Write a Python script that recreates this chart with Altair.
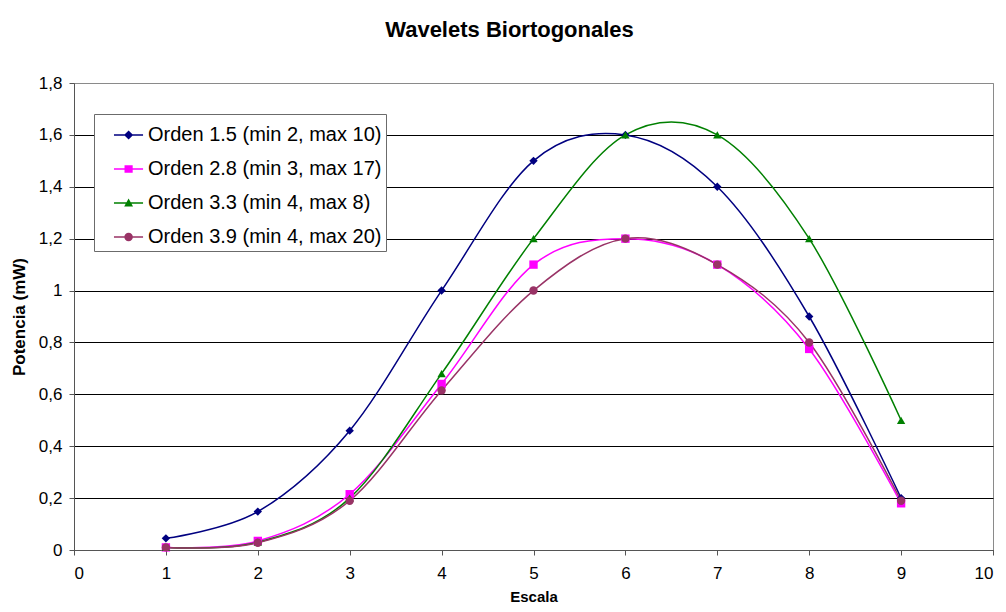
import altair as alt
import pandas as pd

escala = [1, 2, 3, 4, 5, 6, 7, 8, 9]
series = [
    "Orden 1.5 (min 2, max 10)",
    "Orden 2.8 (min 3, max 17)",
    "Orden 3.3 (min 4, max 8)",
    "Orden 3.9 (min 4, max 20)",
]
orden_15 = [0.045, 0.148, 0.46, 1.0, 1.5, 1.6, 1.4, 0.9, 0.2]
orden_28 = [0.01, 0.035, 0.215, 0.64, 1.1, 1.2, 1.1, 0.775, 0.18]
orden_33 = [0.01, 0.03, 0.2, 0.68, 1.2, 1.6, 1.6, 1.2, 0.5]
orden_39 = [0.01, 0.028, 0.19, 0.615, 1.0, 1.2, 1.1, 0.8, 0.19]
colors = ["#000080", "#FF00FF", "#008000", "#993366"]
marker_shapes = ["diamond", "square", "triangle-up", "circle"]

# legend glyphs: short line with the marker in the middle
legend_glyphs = [
    "M-0.06,-0.04L1.65,-0.04L1.65,0.04L-0.06,0.04Z M0.8,-0.27L1.07,0L0.8,0.27L0.53,0Z",
    "M-0.06,-0.04L1.65,-0.04L1.65,0.04L-0.06,0.04Z M0.56,-0.22L1.04,-0.22L1.04,0.22L0.56,0.22Z",
    "M-0.06,-0.04L1.65,-0.04L1.65,0.04L-0.06,0.04Z M0.8,-0.27L1.06,0.2L0.54,0.2Z",
    "M-0.06,-0.04L1.65,-0.04L1.65,0.04L-0.06,0.04Z M0.55,0A0.25,0.25 0 1,1 1.05,0A0.25,0.25 0 1,1 0.55,0Z",
]

rows = []
for name, vals in zip(series, [orden_15, orden_28, orden_33, orden_39]):
    for x, v in zip(escala, vals):
        rows.append({"Escala": x, "Potencia": v, "Serie": name})
df = pd.DataFrame(rows)

FONT = "Liberation Sans"

x_enc = alt.X(
    "Escala:Q",
    scale=alt.Scale(domain=[0, 10], nice=False),
    axis=alt.Axis(
        title="Escala",
        titleFontSize=15,
        values=list(range(0, 11)),
        format="d",
        grid=False,
        tickSize=5,
        labelPadding=10,
        titlePadding=8,
    ),
)
y_enc = alt.Y(
    "Potencia:Q",
    scale=alt.Scale(domain=[0, 1.8], nice=False),
    axis=alt.Axis(
        title="Potencia (mW)",
        values=[0, 0.2, 0.4, 0.6, 0.8, 1.0, 1.2, 1.4, 1.6, 1.8],
        labelExpr="replace('' + round(datum.value * 10) / 10, '.', ',')",
        grid=True,
        gridColor={"condition": {"test": "datum.value > 1.79", "value": "#8a8a8a"}, "value": "#000000"},
        tickSize=5,
        labelPadding=7,
        titlePadding=10,
    ),
)
color_scale = alt.Scale(domain=series, range=colors)

lines = alt.Chart(df).mark_line(interpolate="cardinal", tension=0, strokeWidth=1.5).encode(
    x=x_enc,
    y=y_enc,
    color=alt.Color("Serie:N", scale=color_scale, legend=None),
    detail="Serie:N",
)

point_layers = []
for name, shp in zip(series, marker_shapes):
    point_layers.append(
        alt.Chart(df)
        .transform_filter(alt.datum.Serie == name)
        .mark_point(filled=True, size=70, opacity=1, shape=shp)
        .encode(
            x="Escala:Q",
            y="Potencia:Q",
            color=alt.Color("Serie:N", scale=color_scale, legend=None),
        )
    )

legend_cfg = dict(
    title=None,
    orient="none",
    legendX=20,
    legendY=31,
    padding=4,
    rowPadding=7,
    labelOffset=16,
    labelFontSize=20,
    labelFont=FONT,
    labelColor="#000000",
    labelLimit=500,
    labelExpr="datum.label + '\u00a0\u00a0'",
    symbolOpacity=1,
    symbolStrokeWidth=0,
    symbolSize=1156,
    strokeColor="#6b6b6b",
    fillColor="#ffffff",
)

legend_layer = alt.Chart(df).mark_point(filled=True, opacity=0, size=1156).encode(
    x="Escala:Q",
    y="Potencia:Q",
    color=alt.Color("Serie:N", scale=color_scale, legend=alt.Legend(**legend_cfg)),
    shape=alt.Shape(
        "Serie:N",
        scale=alt.Scale(domain=series, range=legend_glyphs),
        legend=alt.Legend(**legend_cfg),
    ),
)

chart = (
    alt.layer(lines, *point_layers, legend_layer)
    .resolve_scale(color="independent", shape="independent")
    .properties(
        width=919,
        height=467,
        autosize=alt.AutoSizeParams(type="none"),
        padding={"left": 66, "top": 75, "right": 5, "bottom": 54},
        title=alt.TitleParams(
            "Wavelets Biortogonales",
            font=FONT,
            fontSize=22,
            fontWeight="bold",
            color="#000000",
            anchor="middle",
            dx=-24,
            offset=32,
        ),
    )
    .configure_view(stroke="#8a8a8a", strokeWidth=1)
    .configure_axis(
        labelFont=FONT,
        labelFontSize=17,
        labelColor="#000000",
        titleFont=FONT,
        titleFontSize=17,
        titleFontWeight="bold",
        titleColor="#000000",
        domainColor="#555555",
        tickColor="#555555",
        gridWidth=1,
    )
)

chart.save("out.html", embed_options={"renderer": "svg", "actions": False})
